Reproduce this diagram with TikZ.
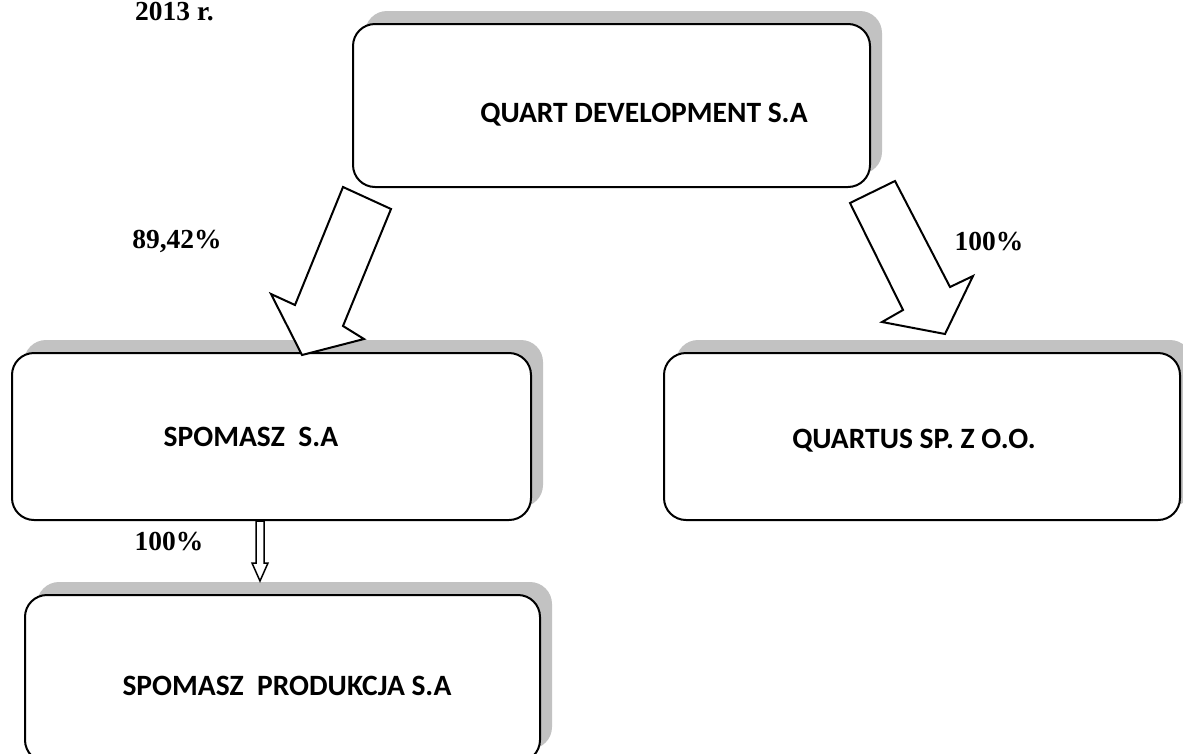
\documentclass[tikz,border=0pt]{standalone}
\usepackage{fontspec}
\usetikzlibrary{shadows}
\newfontfamily\boxfont{Carlito}
\newfontfamily\labfont{Liberation Serif}
\definecolor{shadowgray}{RGB}{194,194,194}
\begin{document}
\begin{tikzpicture}[x=1pt,y=-1pt,
  box/.style={draw=black,line width=2pt,fill=white,rounded corners=22pt,inner sep=0pt,
    drop shadow={shadow xshift=12pt,shadow yshift=13pt,fill=shadowgray,opacity=1}},
  boxtext/.style={font=\boxfont\bfseries\fontsize{29.5}{34}\selectfont,inner sep=0pt},
  pct/.style={font=\labfont\bfseries\fontsize{27.5}{32}\selectfont,inner sep=0pt},
  blockarrow/.style={draw=black,line width=2pt,fill=white,line join=miter},
  thinarrow/.style={draw=black,line width=1.5pt,fill=white,line join=miter}]
\useasboundingbox (0,0) rectangle (1183,753);
\clip (0,0) rectangle (1183,753);
% boxes
\node[box, minimum width=517pt, minimum height=163pt] (qd) at (611.5,105.5) {};
\node[box, minimum width=519pt, minimum height=167pt] (sp) at (271.5,436.5) {};
\node[box, minimum width=516pt, minimum height=167pt] (qs) at (922,436.5) {};
\node[box, minimum width=515pt, minimum height=167pt] (pr) at (282.5,678.5) {};
% box texts
\node[boxtext] (qdt) at (644,115) {QUART DEVELOPMENT S.A};
\node[boxtext] (spt) at (251,437) {SPOMASZ\ \ S.A};
\node[boxtext] (qst) at (914,441) {QUARTUS SP. Z O.O.};
\node[boxtext] (prt) at (287,686) {SPOMASZ\ \ PRODUKCJA S.A};
% labels
\node[pct] (l1) at (177,241) {89,42\%};
\node[pct] (l2) at (989,242) {100\%};
\node[pct] (l3) at (169,542) {100\%};
\node[pct, anchor=base west] (yr) at (135,20) {2013 r.};
% block arrows
\draw[blockarrow] (343,187) -- (391,209) -- (343,326) -- (364,339) -- (302,355)
  -- (271,294) -- (295,305) -- cycle;
\draw[blockarrow] (850,203) -- (895,181) -- (950,287) -- (973,276) -- (945,334)
  -- (882,322) -- (903,310) -- cycle;
\draw[thinarrow] (256,521) -- (256,563) -- (252,563) -- (260,581) -- (268,563)
  -- (264,563) -- (264,521) -- cycle;
\end{tikzpicture}
\end{document}
